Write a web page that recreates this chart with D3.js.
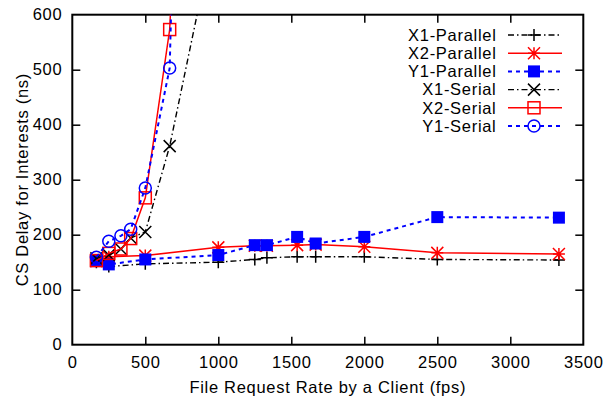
<!DOCTYPE html>
<html>
<head>
<meta charset="utf-8">
<script src="https://cdn.jsdelivr.net/npm/d3@7"></script>
<style>
  html, body { margin: 0; padding: 0; background: #fff; }
  svg text { font-family: "Liberation Sans", Arial, Helvetica, sans-serif; letter-spacing: 0.7px; }
</style>
</head>
<body>
<svg id="chart" width="608" height="403"></svg>
<script>
// File request rates (fps) for the parallel and serial runs
const parallelRates = [165, 250, 500, 1000, 1250, 1333, 1540, 1667, 2000, 2500, 3333];
const serialRates   = [165, 250, 333, 400, 500, 667, 1000];

// CS delay (ns) per series
const x1Parallel = [150, 142, 147, 150, 155, 158, 160, 160, 160, 155, 154];
const x2Parallel = [152, 160, 162, 177, 180, 180, 181, 182, 178, 167, 165];
const y1Parallel = [152, 146, 155, 163, 181, 181, 196, 184, 196, 232, 231];
const x1Serial   = [157, 163, 174, 194, 205, 361, 785];
const x2Serial   = [153, 166, 174, 193, 267, 573, 2500];
const y1Serial   = [159, 188, 198, 210, 285, 503, 4000];

const xTicks = [0, 500, 1000, 1500, 2000, 2500, 3000, 3500];
const yTicks = [0, 100, 200, 300, 400, 500, 600];

const seriesNames = ["X1-Parallel", "X2-Parallel", "Y1-Parallel", "X1-Serial", "X2-Serial", "Y1-Serial"];

const series = [
  { name: seriesNames[0], xs: parallelRates, ys: x1Parallel, color: "#000000", dash: "6,3,1.5,3", width: 1.4, marker: "plus" },
  { name: seriesNames[1], xs: parallelRates, ys: x2Parallel, color: "#ff0000", dash: null,        width: 1.5, marker: "star" },
  { name: seriesNames[2], xs: parallelRates, ys: y1Parallel, color: "#0000ff", dash: "4,4",       width: 2,   marker: "fsquare" },
  { name: seriesNames[3], xs: serialRates,   ys: x1Serial,   color: "#000000", dash: "6,3,1.5,3", width: 1.4, marker: "cross" },
  { name: seriesNames[4], xs: serialRates,   ys: x2Serial,   color: "#ff0000", dash: null,        width: 1.5, marker: "osquare" },
  { name: seriesNames[5], xs: serialRates,   ys: y1Serial,   color: "#0000ff", dash: "4,4",       width: 2,   marker: "ocircle" }
];

const svg = d3.select("#chart");
const plotLeft = 72.3, plotRight = 583.3, plotTop = 14.7, plotBottom = 344.7;
const fontSize = 16.5;

const x = d3.scaleLinear().domain([0, 3500]).range([plotLeft, plotRight]);
const y = d3.scaleLinear().domain([0, 600]).range([plotBottom, plotTop]);

svg.append("clipPath").attr("id", "plotClip")
  .append("rect").attr("x", plotLeft).attr("y", plotTop)
  .attr("width", plotRight - plotLeft).attr("height", plotBottom - plotTop);

// Axes with inward ticks, mirrored on top and right
const tickLen = 8;
const gx = svg.append("g").attr("transform", `translate(0,${plotBottom})`)
  .call(d3.axisBottom(x).tickValues(xTicks).tickSize(-tickLen).tickPadding(12).tickFormat(d3.format("d")));
const gxt = svg.append("g").attr("transform", `translate(0,${plotTop})`)
  .call(d3.axisTop(x).tickValues(xTicks).tickSize(-tickLen).tickFormat(""));
const gy = svg.append("g").attr("transform", `translate(${plotLeft},0)`)
  .call(d3.axisLeft(y).tickValues(yTicks).tickSize(-tickLen).tickPadding(10).tickFormat(d3.format("d")));
const gyr = svg.append("g").attr("transform", `translate(${plotRight},0)`)
  .call(d3.axisRight(y).tickValues(yTicks).tickSize(-tickLen).tickFormat(""));

[gx, gxt, gy, gyr].forEach(g => {
  g.select(".domain").remove();
  g.selectAll(".tick line").attr("stroke", "#000").attr("stroke-width", 1.5);
  g.selectAll(".tick text").attr("font-size", fontSize).attr("fill", "#000");
});
// endpoint ticks coincide with the frame
gx.selectAll(".tick").filter(d => d === 0 || d === 3500).select("line").remove();
gxt.selectAll(".tick").filter(d => d === 0 || d === 3500).select("line").remove();
gy.selectAll(".tick").filter(d => d === 0 || d === 600).select("line").remove();
gyr.selectAll(".tick").filter(d => d === 0 || d === 600).select("line").remove();

svg.append("rect")
  .attr("x", plotLeft).attr("y", plotTop)
  .attr("width", plotRight - plotLeft).attr("height", plotBottom - plotTop)
  .attr("fill", "none").attr("stroke", "#000").attr("stroke-width", 2);

// Axis titles
svg.append("text")
  .attr("x", (plotLeft + plotRight) / 2).attr("y", 393)
  .attr("text-anchor", "middle").attr("font-size", fontSize)
  .text("File Request Rate by a Client (fps)");
svg.append("text")
  .attr("transform", `translate(27.5,${(plotTop + plotBottom) / 2}) rotate(-90)`)
  .attr("text-anchor", "middle").attr("font-size", fontSize)
  .text("CS Delay for Interests (ns)");

function drawMarker(g, type, cx, cy, color) {
  const s = 6;
  if (type === "plus") {
    g.append("path").attr("d", `M${cx - s},${cy}H${cx + s}M${cx},${cy - s}V${cy + s}`)
      .attr("stroke", color).attr("stroke-width", 1.5).attr("fill", "none");
  } else if (type === "cross") {
    g.append("path").attr("d", `M${cx - s},${cy - s}L${cx + s},${cy + s}M${cx - s},${cy + s}L${cx + s},${cy - s}`)
      .attr("stroke", color).attr("stroke-width", 1.5).attr("fill", "none");
  } else if (type === "star") {
    g.append("path").attr("d", `M${cx - s},${cy}H${cx + s}M${cx},${cy - s}V${cy + s}M${cx - s},${cy - s}L${cx + s},${cy + s}M${cx - s},${cy + s}L${cx + s},${cy - s}`)
      .attr("stroke", color).attr("stroke-width", 1.5).attr("fill", "none");
  } else if (type === "fsquare") {
    g.append("rect").attr("x", cx - s).attr("y", cy - s).attr("width", 2 * s).attr("height", 2 * s)
      .attr("fill", color);
  } else if (type === "osquare") {
    g.append("rect").attr("x", cx - s).attr("y", cy - s).attr("width", 2 * s).attr("height", 2 * s)
      .attr("fill", "none").attr("stroke", color).attr("stroke-width", 1.5);
  } else if (type === "ocircle") {
    g.append("circle").attr("cx", cx).attr("cy", cy).attr("r", s)
      .attr("fill", "none").attr("stroke", color).attr("stroke-width", 1.5);
  }
}

const plot = svg.append("g").attr("clip-path", "url(#plotClip)");
const line = d3.line().x(d => x(d[0])).y(d => y(d[1]));

series.forEach(s => {
  const pts = s.xs.map((v, i) => [v, s.ys[i]]);
  plot.append("path").datum(pts)
    .attr("d", line)
    .attr("fill", "none")
    .attr("stroke", s.color)
    .attr("stroke-width", s.width)
    .attr("stroke-dasharray", s.dash);
  const mg = plot.append("g");
  pts.forEach(p => drawMarker(mg, s.marker, x(p[0]), y(p[1]), s.color));
});

// Legend
const legend = svg.append("g");
series.forEach((s, i) => {
  const ly = 35 + i * 18.2;
  legend.append("text")
    .attr("x", 496.5).attr("y", ly + 5.8)
    .attr("text-anchor", "end").attr("font-size", fontSize)
    .text(s.name);
  legend.append("line")
    .attr("x1", 508).attr("x2", 562).attr("y1", ly).attr("y2", ly)
    .attr("stroke", s.color).attr("stroke-width", s.width)
    .attr("stroke-dasharray", s.dash);
  drawMarker(legend, s.marker, 534, ly, s.color);
});
</script>
</body>
</html>
